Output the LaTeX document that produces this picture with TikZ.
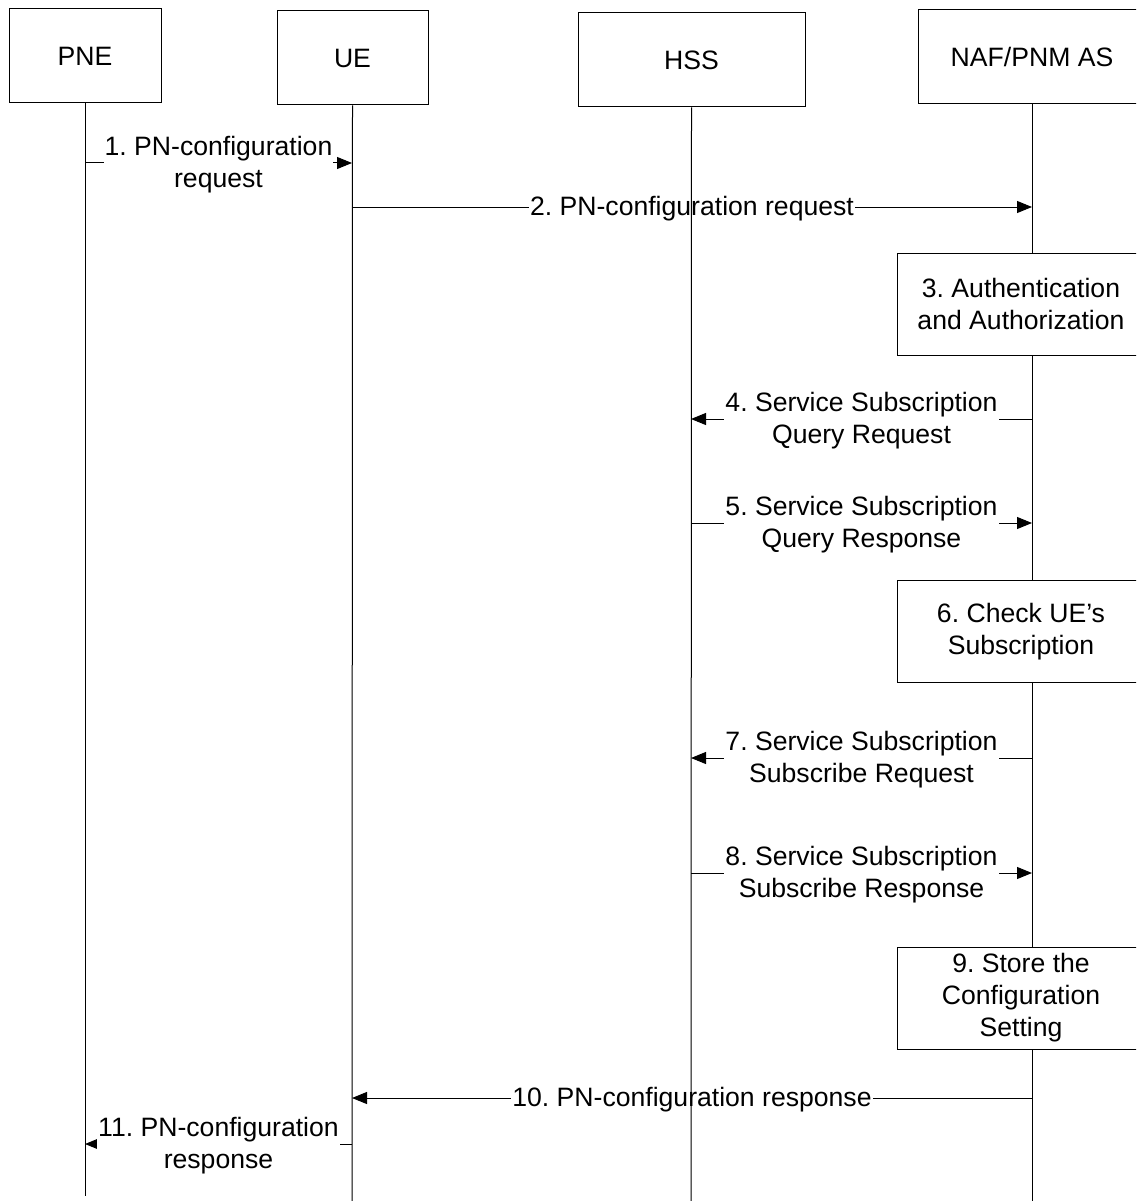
\documentclass[tikz,border=0pt]{standalone}
\usepackage{fontspec}
\setmainfont{Liberation Sans}
\usetikzlibrary{arrows.meta}
\frenchspacing
\begin{document}
\begin{tikzpicture}[x=1pt,y=-1pt,
  every node/.style={font=\fontsize{26.6}{32}\selectfont},
  hdr/.style={draw,line width=1pt,fill=white,minimum height=94pt,inner sep=0pt},
  act/.style={draw,line width=1pt,fill=white,minimum width=248pt,minimum height=102pt,align=center,inner sep=0pt},
  life/.style={line width=1pt},
  msg/.style={line width=1pt,-{Triangle[length=15pt,width=12pt]}},
  lab/.style={fill=white,inner xsep=1pt,inner ysep=0pt,align=center,yshift=-1.5pt}]
\useasboundingbox (0,0) rectangle (1136,1201);
\clip (0,0) rectangle (1136,1201);
\fill[white] (0,0) rectangle (1136,1201);
% headers
\node[hdr,minimum width=152pt] (pne) at (85,56) {PNE};
\node[hdr,minimum width=151pt] (ue) at (352.5,58) {UE};
\node[hdr,minimum width=227pt] (hss) at (691.5,60) {HSS};
\node[hdr,minimum width=227pt] (naf) at (1032,56.5) {NAF/PNM AS};
% lifeline end points and message end points
\coordinate (pneEnd) at (85,1196);
\coordinate (ueEnd) at (352,1201);
\coordinate (hssEnd) at (691,1201);
\coordinate (nafEnd) at (1032,1201);
\coordinate (m1a) at (85,163);   \coordinate (m1b) at (352,163);
\coordinate (m2a) at (352,207);  \coordinate (m2b) at (1032,207);
\coordinate (m4a) at (1032,419); \coordinate (m4b) at (691,419);
\coordinate (m5a) at (691,523);  \coordinate (m5b) at (1032,523);
\coordinate (m7a) at (1032,758); \coordinate (m7b) at (691,758);
\coordinate (m8a) at (691,873);  \coordinate (m8b) at (1032,873);
\coordinate (m10a) at (1032,1098); \coordinate (m10b) at (352,1098);
\coordinate (m11a) at (352,1144);  \coordinate (m11b) at (85,1144);
% messages
\draw[msg] (m1a) -- (m1b) node[midway,lab] (l1) {1. PN-configuration\\request};
\draw[msg] (m2a) -- (m2b) node[midway,lab] (l2) {2. PN-configuration request};
\draw[msg] (m4a) -- (m4b) node[midway,lab] (l4) {4. Service Subscription\\Query Request};
\draw[msg] (m5a) -- (m5b) node[midway,lab] (l5) {5. Service Subscription\\Query Response};
\draw[msg] (m7a) -- (m7b) node[midway,lab] (l7) {7. Service Subscription\\Subscribe Request};
\draw[msg] (m8a) -- (m8b) node[midway,lab] (l8) {8. Service Subscription\\Subscribe Response};
\draw[msg] (m10a) -- (m10b) node[midway,lab] (l10) {10. PN-configuration response};
\draw[msg] (m11a) -- (m11b) node[midway,lab] (l11) {11. PN-configuration\\response};
% lifelines
\draw[life] (pne.south) -- (pneEnd);
\draw[life] (ue.south) -- (ueEnd);
\draw[life] (hss.south) -- (hssEnd);
\draw[life] (naf.south) -- (nafEnd);
% action boxes
\node[act] (a3) at (1021,304) {3. Authentication\\and Authorization};
\node[act] (a6) at (1021,631.5) {6. Check UE’s\\Subscription};
\node[act] (a9) at (1021,998) {9. Store the\\Configuration\\Setting};
\end{tikzpicture}
\end{document}
